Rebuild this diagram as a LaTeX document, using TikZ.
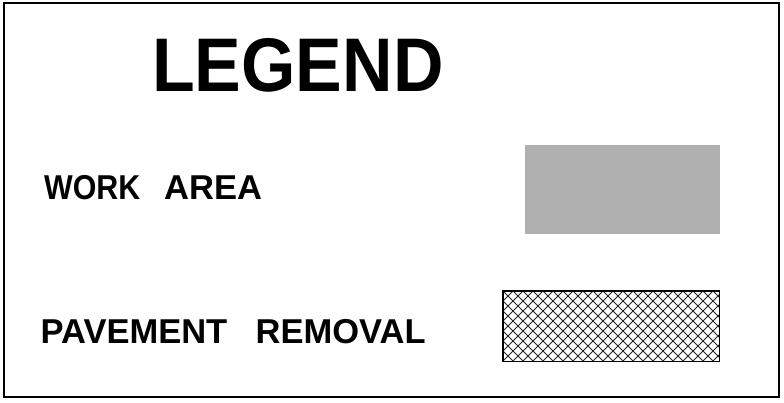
\documentclass[tikz,border=0pt]{standalone}
\usepackage{fontspec}
\setmainfont{Liberation Sans}
\begin{document}
\begin{tikzpicture}[x=1pt,y=-1pt,
  lbl/.style={anchor=base west,inner sep=0pt,font=\fontsize{34.5}{34.5}\selectfont\bfseries},
  hatch/.style={line width=1pt,black!85}]
\useasboundingbox (0,0) rectangle (784,403);
\draw[line width=2pt] (4,3) rectangle (779,397);
\node[anchor=base west,inner sep=0pt,font=\fontsize{76}{76}\selectfont\bfseries] (title) at (152,92) {\scalebox{0.92}[1]{LEGEND}};
\node[lbl] (work) at (44,200) {\makebox[120pt][l]{\scalebox{0.88}[1]{WORK}}AREA};
\node[lbl] (pave) at (40.5,343) {\makebox[215pt][l]{PAVEMENT}REMOVAL};
\node[minimum width=195pt,minimum height=89pt,inner sep=0pt,fill=black!31,anchor=north west] (workbox) at (525,145) {};
\node[minimum width=216pt,minimum height=70pt,inner sep=0pt,anchor=north west] (pavebox) at (503,291) {};
\begin{scope}
\clip (pavebox.north west) rectangle (pavebox.south east);
\foreach \i in {-80,-70,...,230}{
  \draw[hatch] (503+\i,291) -- ++(70,70);
  \draw[hatch] (503+\i,361) -- ++(70,-70);
}
\end{scope}
\draw[line width=1.3pt] (pavebox.north west) rectangle (pavebox.south east);
\end{tikzpicture}
\end{document}
